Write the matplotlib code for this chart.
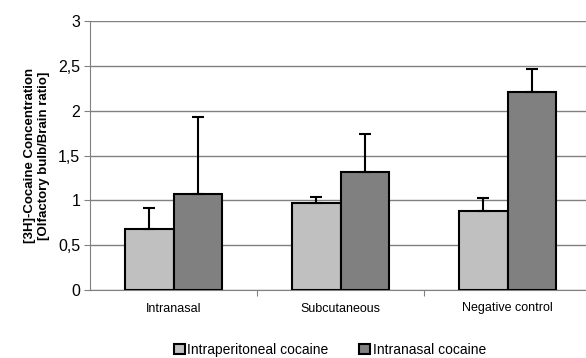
import numpy as np
import matplotlib.pyplot as plt

categories = ['Intranasal', 'Subcutaneous', 'Negative control']
ip_values = [0.68, 0.97, 0.88]
ip_err = [0.24, 0.07, 0.15]
in_values = [1.07, 1.32, 2.21]
in_err = [0.86, 0.42, 0.25]
series_names = ['Intraperitoneal cocaine', 'Intranasal cocaine']
yticks = [0, 0.5, 1, 1.5, 2, 2.5, 3]
ytick_labels = ['0', '0,5', '1', '1,5', '2', '2,5', '3']

plt.rcParams['font.family'] = ['Liberation Sans', 'DejaVu Sans']

fig = plt.figure(figsize=(5.86, 3.58), dpi=100)
W, H = 586, 358
ax = fig.add_axes([90 / W, 1 - 290 / H, 501 / W, 269 / H])

x = np.arange(len(categories))
w = 0.29
ekw = dict(ecolor='black', elinewidth=1.5, capsize=4, capthick=1.5)
ax.bar(x - w / 2, ip_values, w, color='#c0c0c0', edgecolor='black', linewidth=1.5,
       yerr=[np.zeros(3), ip_err], error_kw=ekw, label=series_names[0], zorder=3)
ax.bar(x + w / 2, in_values, w, color='#808080', edgecolor='black', linewidth=1.5,
       yerr=[np.zeros(3), in_err], error_kw=ekw, label=series_names[1], zorder=3)

ax.set_xlim(-0.5, 2.5)
ax.set_ylim(0, 3)
ax.set_yticks(yticks)
ax.set_yticklabels(ytick_labels, fontsize=11.5)
ax.yaxis.grid(True, color='#808080', linewidth=1, zorder=0)

ax.set_xticks([0.5, 1.5])
ax.set_xticklabels([])
ax.set_xticks(x, minor=True)
ax.set_xticklabels(categories, minor=True, fontsize=9)
ax.tick_params(axis='x', which='minor', length=0, pad=9)
ax.tick_params(axis='x', which='major', length=4, color='#808080')
ax.tick_params(axis='y', length=4, color='#808080', pad=3)

for s in ['top', 'right']:
    ax.spines[s].set_visible(False)
for s in ['left', 'bottom']:
    ax.spines[s].set_color('#808080')

ax.set_ylabel('[3H]-Cocaine Concentration\n[Olfactory bulb/Brain ratio]',
              fontsize=9.5, fontweight='bold', labelpad=6)

fig.legend(loc='center', bbox_to_anchor=(330 / W, 1 - 350 / H), ncol=2,
           frameon=False, fontsize=10, handlelength=0.8, handleheight=0.8,
           handletextpad=0.2, columnspacing=2.2)

fig.savefig('out.png', dpi=100)
